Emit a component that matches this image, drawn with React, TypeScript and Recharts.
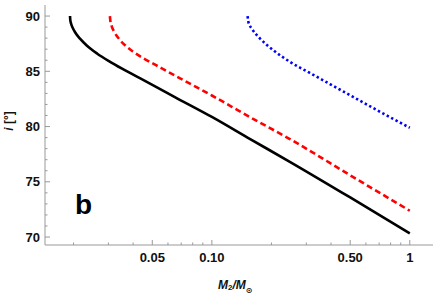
import React from 'react';
import { LineChart, Line, XAxis, YAxis } from 'recharts';

// ---- data ----
const blackMass = [0.0192, 0.01925, 0.01945, 0.0198, 0.02044, 0.02157, 0.02339, 0.02637, 0.0306, 0.035, 0.0459, 0.065, 0.1, 0.157, 0.2477, 0.5, 1.0];
const blackIncl = [90.0, 89.67, 89.3, 88.94, 88.49, 87.95, 87.31, 86.59, 85.86, 85.26, 84.14, 82.67, 80.87, 78.84, 76.81, 73.58, 70.33];

const redMass = [0.03053, 0.03069, 0.03114, 0.0321, 0.03391, 0.03657, 0.0399, 0.04405, 0.05355, 0.065, 0.1, 0.1555, 0.2477, 0.5, 1.0];
const redIncl = [90.0, 89.57, 89.12, 88.58, 87.95, 87.33, 86.79, 86.29, 85.45, 84.62, 82.81, 80.86, 78.87, 75.59, 72.38];

const blueMass = [0.1515, 0.1526, 0.155, 0.1586, 0.1748, 0.204, 0.2477, 0.3126, 0.3945, 0.5172, 0.6789, 1.0];
const blueIncl = [90.0, 89.55, 89.19, 88.89, 87.98, 86.92, 85.86, 84.85, 83.85, 82.68, 81.51, 79.89];

const xMajorTicks = [0.05, 0.1, 0.5, 1];
const xTickLabels = ['0.05', '0.10', '0.50', '1'];
const xMinorTicks = [0.02, 0.03, 0.04, 0.06, 0.07, 0.08, 0.09, 0.2, 0.3, 0.4, 0.6, 0.7, 0.8, 0.9];
const yMajorTicks = [70, 75, 80, 85, 90];
const yTickLabels = ['70', '75', '80', '85', '90'];
const yMinorTicks = [71, 72, 73, 74, 76, 77, 78, 79, 81, 82, 83, 84, 86, 87, 88, 89];

const xDomain: [number, number] = [0.01435, 1.31];
const yDomain: [number, number] = [69.28, 91.0];

const toRows = (ms: number[], is: number[]) => ms.map((m, k) => ({ m, i: is[k] }));
const blackData = toRows(blackMass, blackIncl);
const redData = toRows(redMass, redIncl);
const blueData = toRows(blueMass, blueIncl);

const xTicks = [...xMinorTicks, ...xMajorTicks].sort((a, b) => a - b);
const yTicks = [...yMinorTicks, ...yMajorTicks].sort((a, b) => a - b);

const FONT = "'Liberation Sans', Arial, sans-serif";
const FRAME = '#999999';
const MAJ = 5;
const MIN = 2.5;

const BottomTick = (props: any) => {
  const { x, y, payload } = props;
  const idx = xMajorTicks.indexOf(payload.value);
  const major = idx >= 0;
  return (
    <g>
      <line x1={x} y1={y} x2={x} y2={y - (major ? MAJ : MIN)} stroke={FRAME} strokeWidth={1} />
      {major && (
        <text x={x} y={y + 16.7} textAnchor="middle" fontFamily={FONT} fontWeight="bold" fontSize={13} fill="#111">
          {xTickLabels[idx]}
        </text>
      )}
    </g>
  );
};

const TopTick = (props: any) => {
  const { x, y, payload } = props;
  const major = xMajorTicks.indexOf(payload.value) >= 0;
  return <line x1={x} y1={y} x2={x} y2={y + (major ? MAJ : MIN)} stroke={FRAME} strokeWidth={1} />;
};

const LeftTick = (props: any) => {
  const { x, y, payload } = props;
  const idx = yMajorTicks.indexOf(payload.value);
  const major = idx >= 0;
  return (
    <g>
      <line x1={x} y1={y} x2={x + (major ? MAJ : MIN)} y2={y} stroke={FRAME} strokeWidth={1} />
      {major && (
        <text x={x - 5} y={y + 4.7} textAnchor="end" fontFamily={FONT} fontWeight="bold" fontSize={13} fill="#111">
          {yTickLabels[idx]}
        </text>
      )}
    </g>
  );
};

const RightTick = (props: any) => {
  const { x, y, payload } = props;
  const major = yMajorTicks.indexOf(payload.value) >= 0;
  return <line x1={x} y1={y} x2={x - (major ? MAJ : MIN)} y2={y} stroke={FRAME} strokeWidth={1} />;
};

export default function App() {
  return (
    <div style={{ position: 'absolute', left: 0, top: 0, width: 436, height: 294 }}>
      <LineChart width={436} height={294} margin={{ top: 5, right: 3, left: 0, bottom: 0 }}>
        <XAxis
          xAxisId="b"
          dataKey="m"
          type="number"
          scale="log"
          domain={xDomain}
          allowDataOverflow
          ticks={xTicks}
          interval={0}
          tick={<BottomTick />}
          tickLine={false}
          tickSize={0}
          tickMargin={0}
          axisLine={{ stroke: FRAME }}
          height={49}
          orientation="bottom"
        />
        <XAxis
          xAxisId="t"
          dataKey="m"
          type="number"
          scale="log"
          domain={xDomain}
          allowDataOverflow
          ticks={xTicks}
          interval={0}
          tick={<TopTick />}
          tickLine={false}
          tickSize={0}
          tickMargin={0}
          axisLine={{ stroke: FRAME }}
          height={0}
          orientation="top"
        />
        <YAxis
          yAxisId="l"
          type="number"
          domain={yDomain}
          allowDataOverflow
          ticks={yTicks}
          interval={0}
          tick={<LeftTick />}
          tickLine={false}
          tickSize={0}
          tickMargin={0}
          axisLine={{ stroke: FRAME }}
          width={45}
          orientation="left"
        />
        <YAxis
          yAxisId="r"
          type="number"
          domain={yDomain}
          allowDataOverflow
          ticks={yTicks}
          interval={0}
          tick={<RightTick />}
          tickLine={false}
          tickSize={0}
          tickMargin={0}
          axisLine={{ stroke: FRAME }}
          width={0}
          orientation="right"
        />
        <Line
          xAxisId="b"
          yAxisId="l"
          data={blackData}
          dataKey="i"
          type="monotone"
          stroke="#000000"
          strokeWidth={2.6}
          dot={false}
          activeDot={false}
          isAnimationActive={false}
        />
        <Line
          xAxisId="b"
          yAxisId="l"
          data={redData}
          dataKey="i"
          type="monotone"
          stroke="#ff0000"
          strokeWidth={2.6}
          strokeDasharray="6 3.5"
          dot={false}
          activeDot={false}
          isAnimationActive={false}
        />
        <Line
          xAxisId="b"
          yAxisId="l"
          data={blueData}
          dataKey="i"
          type="monotone"
          stroke="#0000ff"
          strokeWidth={2.6}
          strokeDasharray="2.4 2.6"
          dot={false}
          activeDot={false}
          isAnimationActive={false}
        />
      </LineChart>
      <svg width={436} height={294} style={{ position: 'absolute', left: 0, top: 0, pointerEvents: 'none' }}>
        <text x={83.5} y={214} textAnchor="middle" fontFamily={FONT} fontWeight="bold" fontSize={28} fill="#000">
          b
        </text>
        <text
          x={13}
          y={121}
          transform="rotate(-90 13 121)"
          textAnchor="middle"
          fontFamily={FONT}
          fontWeight="bold"
          fontSize={12}
          fill="#111"
        >
          <tspan fontStyle="italic">i</tspan>
          <tspan> [°]</tspan>
        </text>
        <text x={218} y={289.3} fontFamily={FONT} fontWeight="bold" fontSize={12} fill="#111">
          <tspan fontStyle="italic">M</tspan>
          <tspan fontSize={8} dy={1}>2</tspan>
          <tspan fontStyle="italic" dy={-1}>/M</tspan>
          <tspan fontSize={8} dy={3.5} fontFamily="'DejaVu Sans', sans-serif">⊙</tspan>
        </text>
      </svg>
    </div>
  );
}
